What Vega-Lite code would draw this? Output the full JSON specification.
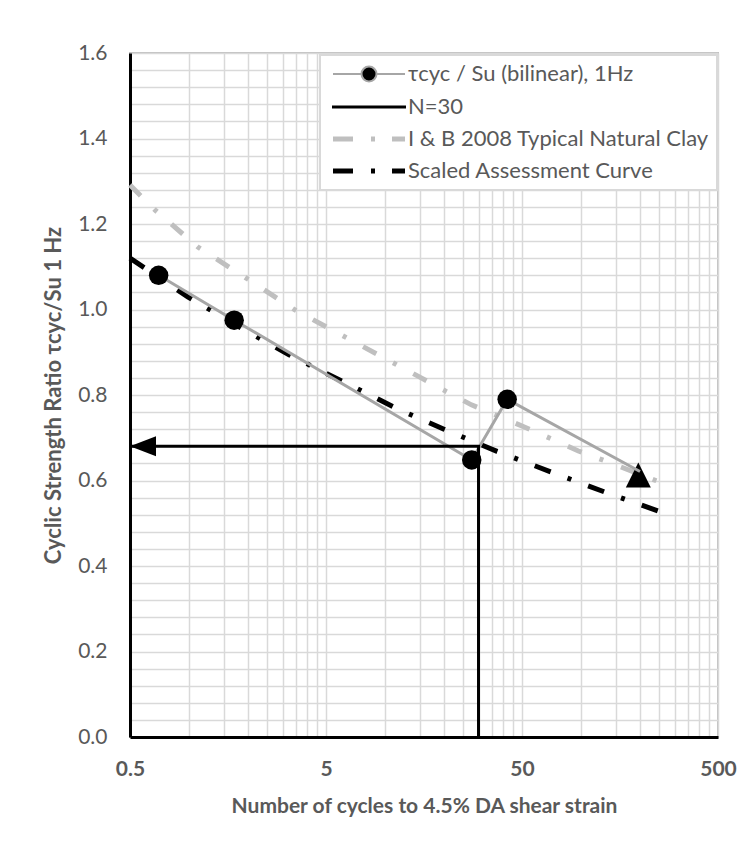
{
  "$schema": "https://vega.github.io/schema/vega-lite/v6.json",
  "width": 588,
  "height": 684,
  "autosize": {"type": "none"},
  "padding": {"left": 130, "top": 53, "right": 35, "bottom": 111},
  "background": "white",
  "config": {
    "font": "Lato",
    "view": {"stroke": "#bfbfbf", "strokeWidth": 2},
    "axis": {
      "grid": true, "gridColor": "#d9d9d9", "gridWidth": 1.5,
      "ticks": false, "domainColor": "black", "domainWidth": 3,
      "labelColor": "#595959", "titleColor": "#595959",
      "labelFont": "Lato", "titleFont": "Lato",
      "labelOverlap": false, "labelFlush": false, "labelBound": false
    },
    "legend": {
      "orient": "none", "legendX": 190, "legendY": 2,
      "padding": 8, "rowPadding": 10,
      "symbolSize": 100, "symbolStrokeWidth": 2, "labelOffset": 58,
      "labelFont": "Lato", "labelFontSize": 22, "labelColor": "#595959", "labelLimit": 0,
      "fillColor": "white", "strokeColor": "#d9d9d9", "strokeWidth": 2
    }
  },
  "datasets": {
    "ib": [
      {"N": 0.5, "ratio": 1.291}, {"N": 0.67, "ratio": 1.233}, {"N": 1.11, "ratio": 1.146},
      {"N": 1.95, "ratio": 1.074}, {"N": 3.47, "ratio": 0.999}, {"N": 15.3, "ratio": 0.84},
      {"N": 20.6, "ratio": 0.808}, {"N": 27.6, "ratio": 0.777}, {"N": 52.1, "ratio": 0.724},
      {"N": 70.9, "ratio": 0.697}, {"N": 97, "ratio": 0.669}, {"N": 132.6, "ratio": 0.646},
      {"N": 250, "ratio": 0.597}, {"N": 265, "ratio": 0.592}
    ],
    "scaled": [
      {"N": 0.5, "ratio": 1.12}, {"N": 0.99, "ratio": 1.029}, {"N": 1.89, "ratio": 0.954},
      {"N": 3.24, "ratio": 0.894}, {"N": 11.9, "ratio": 0.765}, {"N": 20, "ratio": 0.72},
      {"N": 37.3, "ratio": 0.668}, {"N": 71.2, "ratio": 0.619}, {"N": 134, "ratio": 0.572},
      {"N": 284, "ratio": 0.519}
    ],
    "bilinear": [
      {"N": 0.7, "ratio": 1.08}, {"N": 1.7, "ratio": 0.975}, {"N": 27.7, "ratio": 0.648},
      {"N": 42, "ratio": 0.79}, {"N": 200, "ratio": 0.621}
    ],
    "design": [{"N": 196, "ratio": 0.613}],
    "n30": [
      {"N": 0.5, "ratio": 0.68, "seq": 1}, {"N": 30, "ratio": 0.68, "seq": 2}, {"N": 30, "ratio": 0, "seq": 3}
    ],
    "series": [
      {"series": "τcyc / Su (bilinear), 1Hz"}, {"series": "N=30"},
      {"series": "I & B 2008 Typical Natural Clay"}, {"series": "Scaled Assessment Curve"}
    ]
  },
  "encoding": {
    "x": {
      "field": "N", "type": "quantitative",
      "scale": {"type": "log", "domain": [0.5, 500], "nice": false},
      "axis": {
        "values": [0.5, 1, 1.5, 2, 2.5, 3, 3.5, 4, 4.5, 5, 10, 15, 20, 25, 30, 35, 40, 45, 50, 100, 150, 200, 250, 300, 350, 400, 450, 500],
        "labelExpr": "indexof([0.5, 5, 50, 500], datum.value) >= 0 ? format(datum.value, '~g') : ''",
        "title": "Number of cycles to 4.5% DA shear strain",
        "labelFontSize": 21, "labelFontWeight": "bold", "labelPadding": 21,
        "titleFontSize": 21, "titleFontWeight": "bold", "titlePadding": 16
      }
    },
    "y": {
      "field": "ratio", "type": "quantitative",
      "scale": {"domain": [0, 1.6], "nice": false, "zero": false},
      "axis": {
        "values": [0, 0.04, 0.08, 0.12, 0.16, 0.2, 0.24, 0.28, 0.32, 0.36, 0.4, 0.44, 0.48, 0.52, 0.56, 0.6, 0.64, 0.68, 0.72, 0.76, 0.8, 0.84, 0.88, 0.92, 0.96, 1, 1.04, 1.08, 1.12, 1.16, 1.2, 1.24, 1.28, 1.32, 1.36, 1.4, 1.44, 1.48, 1.52, 1.56, 1.6],
        "labelExpr": "abs(datum.value * 5 - round(datum.value * 5)) < 0.001 ? format(datum.value, '.1f') : ''",
        "title": "Cyclic Strength Ratio τcyc/Su 1 Hz",
        "labelFontSize": 21, "labelPadding": 23,
        "titleFontSize": 22, "titleFontWeight": "bold", "titlePadding": 12
      }
    }
  },
  "layer": [
    {
      "data": {"name": "ib"},
      "mark": {"type": "line", "color": "#bfbfbf", "strokeWidth": 5, "strokeDash": [15, 19, 4, 19]}
    },
    {
      "data": {"name": "scaled"},
      "mark": {"type": "line", "color": "black", "strokeWidth": 5, "strokeDash": [17, 18, 4, 18]}
    },
    {
      "data": {"name": "design"},
      "mark": {"type": "point", "shape": "M0,-1L1,1L-1,1Z", "filled": true, "color": "black", "size": 625, "opacity": 1}
    },
    {
      "data": {"name": "bilinear"},
      "mark": {"type": "line", "color": "#a6a6a6", "strokeWidth": 3}
    },
    {
      "data": {"name": "n30"},
      "mark": {"type": "line", "color": "black", "strokeWidth": 3},
      "encoding": {"order": {"field": "seq", "type": "quantitative"}}
    },
    {
      "data": {"name": "n30"},
      "transform": [{"filter": "datum.seq == 1"}],
      "mark": {"type": "point", "shape": "M0,0L2,-0.77L2,0.77Z", "filled": true, "color": "black", "size": 676, "opacity": 1}
    },
    {
      "data": {"name": "bilinear"},
      "transform": [{"filter": "datum.N < 100"}],
      "mark": {"type": "point", "shape": "circle", "filled": true, "color": "black", "size": 380, "opacity": 1}
    },
    {
      "data": {"name": "series"},
      "transform": [{"filter": "false"}],
      "mark": {"type": "point", "filled": true, "opacity": 1},
      "encoding": {
        "shape": {
          "field": "series", "type": "nominal",
          "scale": {
            "domain": ["τcyc / Su (bilinear), 1Hz", "N=30", "I & B 2008 Typical Natural Clay", "Scaled Assessment Curve"],
            "range": [
              "M-1.2,0H4.6M7.4,0H13.2M4.5,0A1.5,1.5,0,1,0,7.5,0A1.5,1.5,0,1,0,4.5,0Z",
              "M-1.2,-0.1H13.2V0.1H-1.2Z",
              "M-1,-0.3H2.6V0.3H-1ZM6.6,-0.3H7V0.3H6.6ZM10.8,-0.3H13V0.3H10.8Z",
              "M-1,-0.3H2.6V0.3H-1ZM6.6,-0.3H7V0.3H6.6ZM10.8,-0.3H13V0.3H10.8Z"
            ]
          },
          "legend": {"title": null}
        },
        "fill": {
          "field": "series", "type": "nominal",
          "scale": {
            "domain": ["τcyc / Su (bilinear), 1Hz", "N=30", "I & B 2008 Typical Natural Clay", "Scaled Assessment Curve"],
            "range": ["black", "black", "#bfbfbf", "black"]
          },
          "legend": {"title": null}
        },
        "stroke": {
          "field": "series", "type": "nominal",
          "scale": {
            "domain": ["τcyc / Su (bilinear), 1Hz", "N=30", "I & B 2008 Typical Natural Clay", "Scaled Assessment Curve"],
            "range": ["#a6a6a6", "black", "#bfbfbf", "black"]
          },
          "legend": {"title": null}
        }
      }
    }
  ]
}
